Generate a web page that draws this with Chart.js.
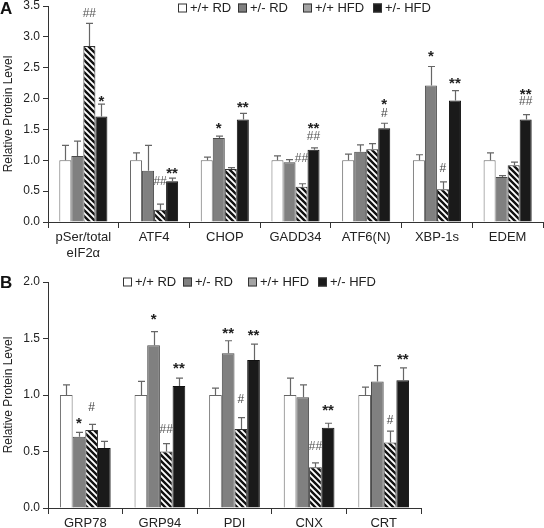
<!DOCTYPE html>
<html>
<head>
<meta charset="utf-8">
<script src="https://cdn.jsdelivr.net/npm/chart.js@4.4.1/dist/chart.umd.min.js"></script>
<style>
  html,body{margin:0;padding:0;background:#fff;}
  .panel{position:absolute;left:0;width:544px;height:264px;}
  #pa{top:0;} #pb{top:264px;}
</style>
</head>
<body>
<div class="panel" id="pa"><canvas id="ca" width="544" height="264"></canvas></div>
<div class="panel" id="pb"><canvas id="cb" width="544" height="264"></canvas></div>
<script>
// ---------- DATA ----------
const seriesNames = ['+/+ RD', '+/- RD', '+/+ HFD', '+/- HFD'];

// Panel A
const categoriesA = [['pSer/total', 'eIF2α'], 'ATF4', 'CHOP', 'GADD34', 'ATF6(N)', 'XBP-1s', 'EDEM'];
const wtRD_A      = [1.00, 1.00, 1.00, 1.00, 1.00, 1.00, 1.00];
const wtRD_A_err  = [1.24, 1.12, 1.05, 1.07, 1.10, 1.09, 1.12];
const hetRD_A     = [1.07, 0.83, 1.36, 0.97, 1.14, 2.21, 0.73];
const hetRD_A_err = [1.31, 1.24, 1.39, 1.01, 1.25, 2.52, 0.75];
const wtHFD_A     = [2.85, 0.20, 0.86, 0.57, 1.18, 0.53, 0.92];
const wtHFD_A_err = [3.22, 0.29, 0.88, 0.62, 1.27, 0.65, 0.97];
const hetHFD_A    = [1.71, 0.66, 1.66, 1.17, 1.52, 1.97, 1.66];
const hetHFD_A_err= [1.91, 0.71, 1.76, 1.20, 1.60, 2.13, 1.74];
const yTicksA = [0, 0.5, 1.0, 1.5, 2.0, 2.5, 3.0, 3.5];
// significance marks: [category, series, text, level]
const marksA = [
  [0, 2, '##', 3.37], [0, 3, '*', 2.00],
  [1, 2, '##', 0.66], [1, 3, '**', 0.83],
  [2, 1, '*', 1.55], [2, 3, '**', 1.90],
  [3, 2, '##', 1.02], [3, 3, '**', 1.55], [3, 3, '##', 1.39],
  [4, 3, '*', 1.94], [4, 3, '#', 1.75],
  [5, 1, '*', 2.73], [5, 2, '#', 0.86], [5, 3, '**', 2.29],
  [6, 3, '**', 2.11], [6, 3, '##', 1.95]
];

// Panel B
const categoriesB = ['GRP78', 'GRP94', 'PDI', 'CNX', 'CRT'];
const wtRD_B      = [1.00, 1.00, 1.00, 1.00, 1.00];
const wtRD_B_err  = [1.09, 1.12, 1.06, 1.15, 1.07];
const hetRD_B     = [0.63, 1.44, 1.37, 0.98, 1.12];
const hetRD_B_err = [0.67, 1.56, 1.48, 1.09, 1.26];
const wtHFD_B     = [0.69, 0.50, 0.70, 0.36, 0.58];
const wtHFD_B_err = [0.74, 0.57, 0.80, 0.40, 0.68];
const hetHFD_B    = [0.53, 1.08, 1.31, 0.71, 1.13];
const hetHFD_B_err= [0.59, 1.15, 1.45, 0.75, 1.24];
const yTicksB = [0, 0.5, 1.0, 1.5, 2.0];
const marksB = [
  [0, 1, '*', 0.77], [0, 2, '#', 0.89],
  [1, 1, '*', 1.69], [1, 2, '##', 0.69], [1, 3, '**', 1.26],
  [2, 1, '**', 1.57], [2, 2, '#', 0.96], [2, 3, '**', 1.55],
  [3, 2, '##', 0.54], [3, 3, '**', 0.89],
  [4, 2, '#', 0.77], [4, 3, '**', 1.34]
];

// ---------- STYLE ----------
const FONT = '"Liberation Sans", Arial, Helvetica, sans-serif';
const AXIS = '#333';

function makeHatch() {
  const s = 6;
  const c = document.createElement('canvas');
  c.width = s; c.height = s;
  const g = c.getContext('2d');
  g.fillStyle = '#fff'; g.fillRect(0, 0, s, s);
  g.strokeStyle = '#111'; g.lineWidth = 2.4;
  g.beginPath();
  g.moveTo(-2, -2); g.lineTo(s + 2, s + 2);
  g.moveTo(-2, s - 2); g.lineTo(2, s + 2);
  g.moveTo(s - 2, -2); g.lineTo(s + 2, 2);
  g.stroke();
  return g.createPattern(c, 'repeat');
}
const hatch = makeHatch();

const fills   = ['#ffffff', '#808080', hatch, '#1a1a1a'];
const borders = ['#666666', '#4a4a4a', '#333333', '#111111'];

function buildDatasets(vals, errs) {
  return vals.map((v, i) => ({
    label: seriesNames[i],
    data: v,
    err: errs[i],
    backgroundColor: fills[i],
    borderColor: borders[i],
    borderWidth: 1,
    borderSkipped: 'bottom'
  }));
}

const errorBarPlugin = {
  id: 'errbars',
  afterDatasetsDraw(chart) {
    const ctx = chart.ctx, ys = chart.scales.y;
    ctx.save();
    ctx.strokeStyle = '#666'; ctx.lineWidth = 1.2;
    chart.data.datasets.forEach((ds, di) => {
      const meta = chart.getDatasetMeta(di);
      meta.data.forEach((el, i) => {
        const x = Math.round(el.x) + 0.5;
        const yTop = el.y;
        const yE = ys.getPixelForValue(ds.err[i]);
        ctx.beginPath();
        ctx.moveTo(x, yTop); ctx.lineTo(x, yE);
        ctx.moveTo(x - 3.5, yE); ctx.lineTo(x + 3.5, yE);
        ctx.stroke();
      });
    });
    ctx.restore();
  }
};

const marksPlugin = {
  id: 'marks',
  afterDatasetsDraw(chart, args, opts) {
    const ctx = chart.ctx, ys = chart.scales.y;
    ctx.save();
    ctx.textAlign = 'center'; ctx.textBaseline = 'middle';
    (opts.marks || []).forEach(([c, s, t, lvl]) => {
      const el = chart.getDatasetMeta(s).data[c];
      const y = ys.getPixelForValue(lvl);
      if (t.indexOf('*') >= 0) {
        ctx.font = 'bold 15px ' + FONT; ctx.fillStyle = '#222';
        ctx.fillText(t, el.x, y + 3);
      } else {
        ctx.font = '12px ' + FONT; ctx.fillStyle = t === '##' ? '#555' : '#444';
        ctx.fillText(t, el.x, y);
      }
    });
    ctx.restore();
  }
};

const decorPlugin = {
  id: 'decor',
  afterDraw(chart, args, opts) {
    const ctx = chart.ctx, ca = chart.chartArea;
    ctx.save();
    // panel letter
    ctx.font = 'bold 17px ' + FONT; ctx.fillStyle = '#111';
    ctx.textAlign = 'left'; ctx.textBaseline = 'middle';
    ctx.fillText(opts.letter, 0, opts.letterY);
    // y title
    ctx.save();
    ctx.translate(9, (ca.top + ca.bottom) / 2);
    ctx.rotate(-Math.PI / 2);
    ctx.font = '12px ' + FONT; ctx.fillStyle = '#222';
    ctx.textAlign = 'center'; ctx.textBaseline = 'middle';
    ctx.fillText('Relative Protein Level', 0, 0);
    ctx.restore();
    // legend
    ctx.font = '13px ' + FONT; ctx.textBaseline = 'middle';
    const offs = [0, 60, 125, 195];
    chart.data.datasets.forEach((ds, i) => {
      const x = opts.legendX + offs[i], y = opts.legendY;
      ctx.fillStyle = ds.backgroundColor === hatch ? '#fff' : ds.backgroundColor;
      ctx.fillRect(x, y - 4.5, 9, 9);
      if (ds.backgroundColor === hatch) {
        ctx.save();
        ctx.beginPath(); ctx.rect(x, y - 4.5, 9, 9); ctx.clip();
        ctx.strokeStyle = '#333'; ctx.lineWidth = 0.9;
        for (let k = -10; k < 12; k += 2) {
          ctx.beginPath(); ctx.moveTo(x + k, y - 4.5); ctx.lineTo(x + k + 9, y + 4.5); ctx.stroke();
        }
        ctx.restore();
      }
      ctx.strokeStyle = '#333'; ctx.lineWidth = 1;
      ctx.strokeRect(x + 0.5, y - 4, 8, 8);
      ctx.fillStyle = '#222'; ctx.textAlign = 'left';
      ctx.fillText(ds.label, x + 12, y + 0.5);
    });
    ctx.restore();
  }
};

function makeChart(id, cats, datasets, yMax, ticks, marks, pad, xAxisH, cfg) {
  return new Chart(document.getElementById(id), {
    type: 'bar',
    data: { labels: cats, datasets },
    plugins: [errorBarPlugin, marksPlugin, decorPlugin],
    options: {
      responsive: false, animation: false,
      categoryPercentage: 0.68, barPercentage: 1.0,
      layout: { padding: pad },
      plugins: {
        legend: { display: false }, tooltip: { enabled: false },
        marks: { marks },
        decor: cfg
      },
      scales: {
        x: {
          grid: { offset: true, drawOnChartArea: false, drawTicks: true, tickLength: 6, color: AXIS },
          border: { display: true, color: AXIS, width: 1 },
          ticks: { color: '#222', font: { family: FONT, size: 13 }, padding: 2, maxRotation: 0, autoSkip: false },
          afterFit(s) { s.height = xAxisH; s.paddingLeft = 0; s.paddingRight = 0; }
        },
        y: {
          min: 0, max: yMax,
          afterBuildTicks(s) { s.ticks = ticks.map(v => ({ value: v })); },
          grid: { drawOnChartArea: false, drawTicks: true, tickLength: 5, color: AXIS },
          border: { display: true, color: AXIS, width: 1 },
          ticks: { color: '#222', font: { family: FONT, size: 12 }, padding: 3, callback: v => Number(v).toFixed(1) },
          afterFit(s) { s.width = 48; s.paddingTop = 0; s.paddingBottom = 0; }
        }
      }
    }
  });
}

makeChart('ca', categoriesA,
  buildDatasets([wtRD_A, hetRD_A, wtHFD_A, hetHFD_A], [wtRD_A_err, hetRD_A_err, wtHFD_A_err, hetHFD_A_err]),
  3.5, yTicksA, marksA, { left: 0, right: 1, top: 6, bottom: 0 }, 42,
  { letter: 'A', letterY: 9, legendX: 178, legendY: 8 });

makeChart('cb', categoriesB,
  buildDatasets([wtRD_B, hetRD_B, wtHFD_B, hetHFD_B], [wtRD_B_err, hetRD_B_err, wtHFD_B_err, hetHFD_B_err]),
  2.0, yTicksB, marksB, { left: 0, right: 123, top: 18, bottom: 0 }, 20,
  { letter: 'B', letterY: 19, legendX: 123, legendY: 18 });
</script>
</body>
</html>
